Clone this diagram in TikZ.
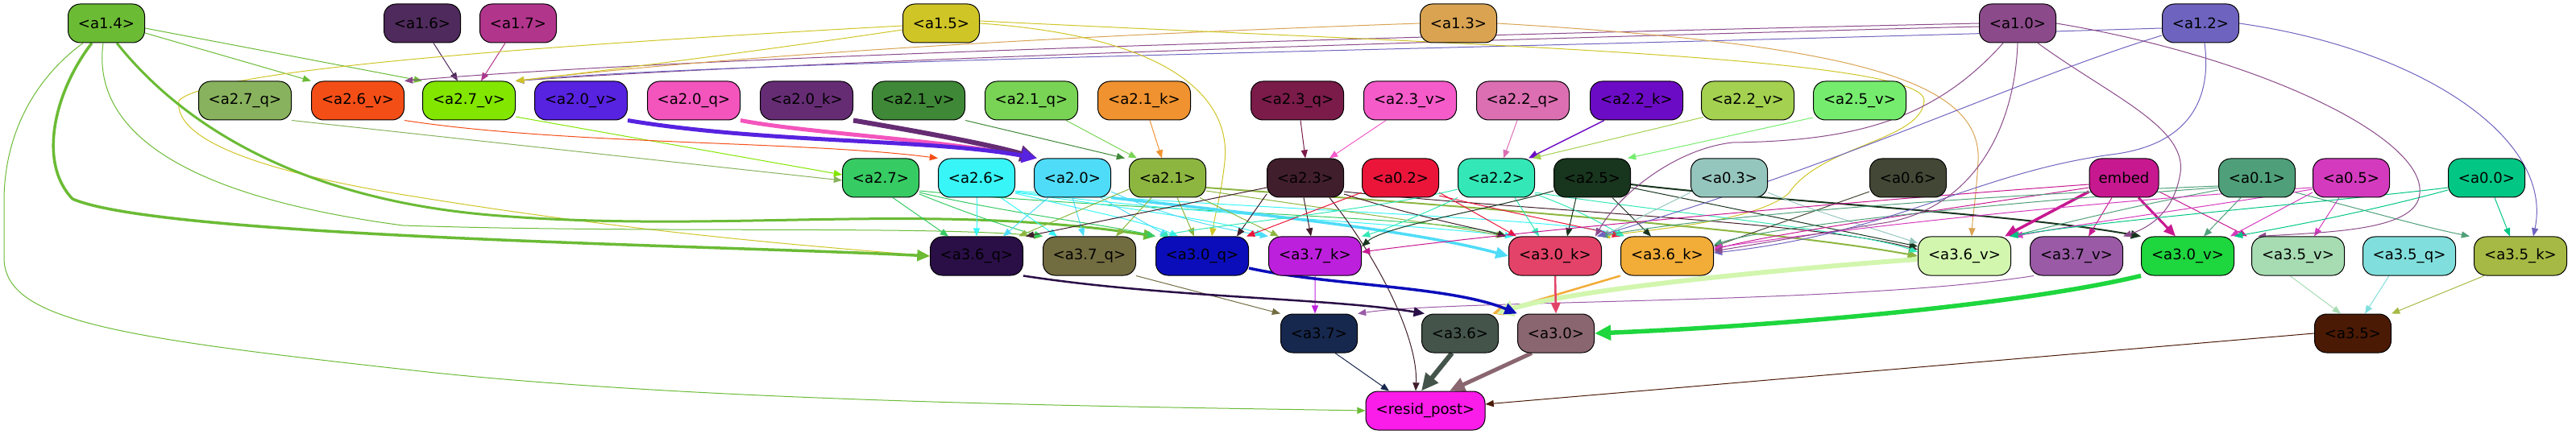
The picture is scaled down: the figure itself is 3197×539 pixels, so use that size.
\documentclass[tikz,border=0pt]{standalone}
\usepackage{fontspec}
\setmainfont{DejaVu Sans}
\usetikzlibrary{arrows.meta}
\pgfdeclarelayer{bg}
\pgfsetlayers{bg,main}
\definecolor{c14}{HTML}{6BBB35}\definecolor{c16}{HTML}{4F2A5C}\definecolor{c17}{HTML}{B2358C}
\definecolor{c15}{HTML}{D0C526}\definecolor{c13}{HTML}{D9A352}\definecolor{c10}{HTML}{8B4A8A}
\definecolor{c12}{HTML}{6E64BF}
\definecolor{c27q}{HTML}{88B25D}\definecolor{c26v}{HTML}{F44E17}\definecolor{c27v}{HTML}{82E600}
\definecolor{c20v}{HTML}{5722E0}\definecolor{c20q}{HTML}{F355BD}\definecolor{c20k}{HTML}{652C74}
\definecolor{c21v}{HTML}{3F8837}\definecolor{c21q}{HTML}{79D455}\definecolor{c21k}{HTML}{F0922F}
\definecolor{c23q}{HTML}{7A1B49}\definecolor{c23v}{HTML}{F55BC9}\definecolor{c22q}{HTML}{DB6FB2}
\definecolor{c22k}{HTML}{6C0BC5}\definecolor{c22v}{HTML}{A4D150}\definecolor{c25v}{HTML}{76EC6F}
\definecolor{c27}{HTML}{36CB63}\definecolor{c26}{HTML}{38F5F7}\definecolor{c20}{HTML}{4FDCF8}
\definecolor{c21}{HTML}{8DB641}\definecolor{c23}{HTML}{411E2B}\definecolor{c02}{HTML}{EB153A}
\definecolor{c22}{HTML}{33E8B6}\definecolor{c25}{HTML}{18351E}\definecolor{c03}{HTML}{95C6BD}
\definecolor{c06}{HTML}{434735}\definecolor{cemb}{HTML}{C71890}\definecolor{c01}{HTML}{4FA07A}
\definecolor{c05}{HTML}{D43ABE}\definecolor{c00}{HTML}{02C684}
\definecolor{c36q}{HTML}{2A0F47}\definecolor{c37q}{HTML}{726C41}\definecolor{c30q}{HTML}{0B0DBB}
\definecolor{c37k}{HTML}{BD20DD}\definecolor{c30k}{HTML}{E34368}\definecolor{c36k}{HTML}{F2AC38}
\definecolor{c36v}{HTML}{D2F6AE}\definecolor{c37v}{HTML}{9A5AA6}\definecolor{c30v}{HTML}{1ED63E}
\definecolor{c35v}{HTML}{A7DCB3}\definecolor{c35q}{HTML}{80DFDC}\definecolor{c35k}{HTML}{A6B944}
\definecolor{c37}{HTML}{17284E}\definecolor{c36}{HTML}{44544B}\definecolor{c30}{HTML}{8A6670}
\definecolor{c35}{HTML}{4A1A05}\definecolor{cres}{HTML}{FA1CE8}
\tikzset{
  box/.style={draw=black, line width=1bp, rounded corners=15bp, minimum height=48bp,
    inner xsep=0pt, inner ysep=0pt, text=black, font=\fontsize{18.1bp}{22bp}\selectfont},
  bs/.style={box, fill=#1, minimum width=95bp},
  bl/.style={box, fill=#1, minimum width=115bp},
  e/.style={draw=#1, line width=1bp, -{Triangle[length=8bp 2.2, width=6bp 2.2]}}
}
\begin{document}
\begin{tikzpicture}[x=1bp, y=-1bp]
\useasboundingbox (0,0) rectangle (3197,539);
% row 1
\node[bs=c14] (n14) at (132,29) {<a1.4>};
\node[bs=c16] (n16) at (524,29) {<a1.6>};
\node[bs=c17] (n17) at (643,29) {<a1.7>};
\node[bs=c15] (n15) at (1168,29) {<a1.5>};
\node[bs=c13] (n13) at (1810,29) {<a1.3>};
\node[bs=c10] (n10) at (2504,29) {<a1.0>};
\node[bs=c12] (n12) at (2731,29) {<a1.2>};
% row 2
\node[bl=c27q] (n27q) at (304,125) {<a2.7\_q>};
\node[bl=c26v] (n26v) at (444,125) {<a2.6\_v>};
\node[bl=c27v] (n27v) at (582,125) {<a2.7\_v>};
\node[bl=c20v] (n20v) at (721,125) {<a2.0\_v>};
\node[bl=c20q] (n20q) at (861,125) {<a2.0\_q>};
\node[bl=c20k] (n20k) at (1001,125) {<a2.0\_k>};
\node[bl=c21v] (n21v) at (1140,125) {<a2.1\_v>};
\node[bl=c21q] (n21q) at (1280,125) {<a2.1\_q>};
\node[bl=c21k] (n21k) at (1420,125) {<a2.1\_k>};
\node[bl=c23q] (n23q) at (1610,125) {<a2.3\_q>};
\node[bl=c23v] (n23v) at (1750,125) {<a2.3\_v>};
\node[bl=c22q] (n22q) at (1890,125) {<a2.2\_q>};
\node[bl=c22k] (n22k) at (2031,125) {<a2.2\_k>};
\node[bl=c22v] (n22v) at (2169,125) {<a2.2\_v>};
\node[bl=c25v] (n25v) at (2308,125) {<a2.5\_v>};
% row 3
\node[bs=c27] (n27) at (1093,221) {<a2.7>};
\node[bs=c26] (n26) at (1212,221) {<a2.6>};
\node[bs=c20] (n20) at (1331,221) {<a2.0>};
\node[bs=c21] (n21) at (1449,221) {<a2.1>};
\node[bs=c23] (n23) at (1620,221) {<a2.3>};
\node[bs=c02] (n02) at (1738,221) {<a0.2>};
\node[bs=c22] (n22) at (1857,221) {<a2.2>};
\node[bs=c25] (n25) at (1976,221) {<a2.5>};
\node[bs=c03] (n03) at (2146,221) {<a0.3>};
\node[bs=c06] (n06) at (2368,221) {<a0.6>};
\node[box, fill=cemb, minimum width=86bp] (emb) at (2636,221) {embed};
\node[bs=c01] (n01) at (2801,221) {<a0.1>};
\node[bs=c05] (n05) at (2918,221) {<a0.5>};
\node[bs=c00] (n00) at (3086,221) {<a0.0>};
% row 4
\node[bl=c36q] (n36q) at (1212,318) {<a3.6\_q>};
\node[bl=c37q] (n37q) at (1352,318) {<a3.7\_q>};
\node[bl=c30q] (n30q) at (1492,318) {<a3.0\_q>};
\node[bl=c37k] (n37k) at (1632,318) {<a3.7\_k>};
\node[bl=c30k] (n30k) at (1930,318) {<a3.0\_k>};
\node[bl=c36k] (n36k) at (2069,318) {<a3.6\_k>};
\node[bl=c36v] (n36v) at (2438,318) {<a3.6\_v>};
\node[bl=c37v] (n37v) at (2577,318) {<a3.7\_v>};
\node[bl=c30v] (n30v) at (2715,318) {<a3.0\_v>};
\node[bl=c35v] (n35v) at (2852,318) {<a3.5\_v>};
\node[bl=c35q] (n35q) at (2990,318) {<a3.5\_q>};
\node[bl=c35k] (n35k) at (3128,318) {<a3.5\_k>};
% row 5
\node[bs=c37] (n37) at (1637,414) {<a3.7>};
\node[bs=c36] (n36) at (1812,414) {<a3.6>};
\node[bs=c30] (n30) at (1931,414) {<a3.0>};
\node[bs=c35] (n35) at (2920,414) {<a3.5>};
% row 6
\node[box, fill=cres, minimum width=148bp] (resid) at (1769,510) {<resid\_post>};

\begin{pgfonlayer}{bg}
% row1 -> row2
\draw[e=c16] ([xshift=14bp]n16.south) -- ([xshift=-14bp]n27v.north);
\draw[e=c17] ([xshift=-16bp]n17.south) -- ([xshift=15bp]n27v.north);
\draw[e=c14] ([yshift=-12bp]n14.east) -- (n26v.north west);
\draw[e=c14] ([yshift=-6bp]n14.east) -- (n27v.north west);
\draw[e=c10] (n10.west) .. controls (1500,50) and (800,75) .. (n26v.north east);
\draw[e=c10] ([yshift=-4bp]n10.west) .. controls (1500,58) and (900,82) .. (n27v.north east);
\draw[e=c12] ([yshift=-6bp]n12.west) .. controls (1800,62) and (900,76) .. (n27v.north east);
\draw[e=c13] (n13.west) .. controls (1300,45) and (900,70) .. (n27v.north east);
\draw[e=c15] ([yshift=-8bp]n15.west) .. controls (1000,55) and (800,82) .. (n27v.north east);
\draw[e=c15] ([yshift=-3bp]n15.west) .. controls (700,55) and (260,85) .. (222,125) .. controls (215,175) and (330,215) .. (520,245) .. controls (800,290) and (1000,305) .. (n36q.west);
\draw[e=c15] (n15.east) .. controls (1450,45) and (1528,120) .. (1520,200) .. controls (1516,240) and (1508,265) .. ([xshift=12bp]n30q.north);
\draw[e=c15] ([yshift=3bp]n15.east) .. controls (1800,55) and (2390,70) .. (2388,125) .. controls (2385,175) and (2260,180) .. (2220,240) .. controls (2180,275) and (2050,285) .. (n30k.north east);
\draw[e=c13] (n13.east) .. controls (2300,55) and (2460,100) .. (2455,200) .. controls (2452,250) and (2448,270) .. ([xshift=9bp]n36v.north);
% a1.4 long edges
\draw[e=c14, line width=3.5bp] ([xshift=-18bp]n14.south) .. controls (70,110) and (45,200) .. (90,247) .. controls (200,295) and (900,305) .. (n36q.west);
\draw[e=c14, line width=3bp] ([xshift=13bp]n14.south) .. controls (230,160) and (380,250) .. (620,268) .. controls (900,290) and (1150,250) .. (n30q.north west);
\draw[e=c14] ([xshift=-4bp]n14.south) .. controls (115,150) and (200,240) .. (500,280) .. controls (800,290) and (1150,280) .. (n37q.north west);
\draw[e=c14] ([xshift=-29bp]n14.south) .. controls (40,100) and (5,170) .. (5,250) -- (5,320) .. controls (5,400) and (150,420) .. (540,463) .. controls (900,500) and (1400,505) .. (resid.west);
% row2 -> row3
\draw[e=c27q] (n27q.south east) -- ([yshift=-3bp]n27.west);
\draw[e=c27v] ([yshift=-20bp]n27v.east) -- ([yshift=4bp]n27.west);
\draw[e=c26v] (n26v.south east) .. controls (700,180) and (1000,175) .. (n26.north west);
\draw[e=c20q, line width=5bp] (n20q.south east) .. controls (1000,165) and (1150,172) .. ([xshift=4bp]n20.north west);
\draw[e=c20k, line width=6bp] (n20k.south east) .. controls (1150,165) and (1230,180) .. ([xshift=4bp]n20.north west);
\draw[e=c20v, line width=5bp] (n20v.south east) .. controls (950,178) and (1150,172) .. ([xshift=4bp]n20.north west);
\draw[e=c21v] (n21v.south east) -- ([xshift=-5bp]n21.north west);
\draw[e=c21q] ([xshift=-15bp]n21q.south east) -- ([xshift=10bp]n21.north west);
\draw[e=c21k] ([xshift=7bp]n21k.south) -- ([xshift=-7bp]n21.north);
\draw[e=c23q] ([xshift=4bp]n23q.south) -- (n23.north);
\draw[e=c23v] ([xshift=-30bp]n23v.south) -- ([xshift=30bp]n23.north);
\draw[e=c22q] ([xshift=-7bp]n22q.south) -- ([xshift=9bp]n22.north);
\draw[e=c22k, line width=1.5bp] ([xshift=-40bp]n22k.south) -- ([xshift=40bp]n22.north);
\draw[e=c22v] ([xshift=-55bp, yshift=4bp]n22v.south) -- ([xshift=-3bp]n22.north east);
\draw[e=c25v] ([yshift=-21bp]n25v.west) -- ([xshift=-4bp]n25.north east);
% a2.7
\draw[e=c27] ([xshift=15bp]n27.south) -- ([xshift=-35bp]n36q.north);
\draw[e=c27] ([yshift=-20bp]n27.east) .. controls (1200,265) and (1260,285) .. (n37q.north west);
\draw[e=c27] ([yshift=-18bp]n27.east) .. controls (1250,265) and (1380,280) .. (n30q.north west);
\draw[e=c27] ([yshift=-16bp]n27.east) .. controls (1400,262) and (1800,270) .. ([xshift=-2bp]n30k.north west);
% a2.6
\draw[e=c26] (n26.south) -- (n36q.north);
\draw[e=c26] ([xshift=30bp]n26.south) -- ([xshift=-40bp]n37q.north);
\draw[e=c26] ([yshift=-19bp]n26.east) .. controls (1350,262) and (1420,275) .. ([xshift=-30bp]n30q.north);
\draw[e=c26] ([yshift=-18bp]n26.east) .. controls (1450,265) and (1540,280) .. ([xshift=-6bp]n37k.north west);
\draw[e=c26] ([yshift=-17bp]n26.east) .. controls (1500,268) and (1750,278) .. ([xshift=6bp]n30k.north west);
\draw[e=c26] ([yshift=-16bp]n26.east) .. controls (1600,262) and (1950,272) .. ([xshift=3bp]n36k.north west);
% a2.0
\draw[e=c20] ([xshift=-30bp]n20.south) -- ([xshift=33bp]n36q.north);
\draw[e=c20] (n20.south) -- ([xshift=-7bp]n37q.north);
\draw[e=c20] ([xshift=35bp]n20.south) -- ([xshift=-42bp]n30q.north);
\draw[e=c20, line width=3.5bp] (n20.south east) .. controls (1550,265) and (1750,285) .. (n30k.west);
\draw[e=c20] ([yshift=-17bp]n20.east) .. controls (1450,270) and (1520,285) .. (n37k.north west);
% a2.1
\draw[e=c21] ([yshift=-14bp]n21.west) -- ([xshift=-6bp]n36q.north east);
\draw[e=c21] ([xshift=-20bp]n21.south) -- ([xshift=33bp]n37q.north);
\draw[e=c21] ([xshift=12bp]n21.south) -- ([xshift=-10bp]n30q.north);
\draw[e=c21] ([xshift=40bp]n21.south) -- ([xshift=-45bp]n37k.north);
\draw[e=c21, line width=2bp] ([yshift=-12bp]n21.east) .. controls (1800,255) and (2200,285) .. (n36v.west);
\draw[e=c21] ([yshift=-16bp]n21.east) .. controls (1650,260) and (1800,280) .. ([xshift=-5bp]n30k.north west);
% a2.3
\draw[e=c23] ([xshift=-2bp]n23.south) -- ([xshift=-5bp]n37k.north);
\draw[e=c23] ([xshift=30bp]n23.south) .. controls (1710,320) and (1760,420) .. ([xshift=-12bp]resid.north);
\draw[e=c23] ([yshift=-12bp]n23.west) -- ([xshift=3bp]n36q.north east);
\draw[e=c23] ([yshift=-20bp]n23.west) -- ([xshift=-15bp]n30q.north east);
\draw[e=c23] ([yshift=-20bp]n23.east) .. controls (1760,270) and (1840,285) .. ([xshift=-3bp]n30k.north west);
\draw[e=c23] ([yshift=-17bp]n23.east) .. controls (1900,262) and (2250,275) .. ([yshift=8bp]n36v.west);
% a0.2
\draw[e=c02] ([yshift=-18bp]n02.west) -- ([xshift=-3bp]n30q.north east);
\draw[e=c02] ([yshift=-18bp]n02.east) -- ([xshift=10bp]n30k.north west);
\draw[e=c02] ([yshift=-22bp]n02.east) .. controls (1900,270) and (1980,285) .. (n36k.north west);
% a2.2
\draw[e=c22] (n22.south west) .. controls (1780,260) and (1720,285) .. (n37k.north east);
\draw[e=c22] ([xshift=23bp]n22.south) -- ([xshift=-20bp]n30k.north);
\draw[e=c22] ([yshift=-20bp]n22.east) .. controls (1960,260) and (2000,285) .. ([xshift=5bp]n36k.north west);
\draw[e=c22] ([yshift=-14bp]n22.west) .. controls (1700,262) and (1500,280) .. ([xshift=5bp]n30q.north west);
\draw[e=c22] ([yshift=-18bp]n22.east) .. controls (2050,262) and (2300,285) .. ([yshift=5bp]n36v.west);
% a2.5
\draw[e=c25] ([xshift=-20bp]n25.south) -- ([xshift=15bp]n30k.north);
\draw[e=c25] ([xshift=25bp]n25.south) -- ([xshift=-20bp]n36k.north);
\draw[e=c25] ([yshift=-16bp]n25.west) .. controls (1850,260) and (1720,280) .. ([yshift=12bp]n37k.east);
\draw[e=c25] ([yshift=-12bp]n25.east) -- ([yshift=12bp]n36v.west);
\draw[e=c25, line width=2bp] ([yshift=-8bp]n25.east) .. controls (2200,250) and (2500,265) .. (n30v.north west);
% a0.3 / a0.6
\draw[e=c03] ([yshift=-18bp]n03.west) -- (n30k.north east);
\draw[e=c03] ([yshift=-18bp]n03.east) .. controls (2250,262) and (2320,282) .. ([yshift=16bp]n36v.west);
\draw[e=c06] ([yshift=-17bp]n06.west) -- ([yshift=12bp]n36k.east);
% embed
\draw[e=cemb, line width=3.5bp] ([yshift=-17bp]emb.west) -- ([xshift=-8bp]n36v.north east);
\draw[e=cemb] ([xshift=-15bp]emb.south) -- ([xshift=15bp]n37v.north);
\draw[e=cemb, line width=3bp] ([xshift=18bp]emb.south) -- ([xshift=-15bp]n30v.north);
\draw[e=cemb] ([yshift=-17bp]emb.east) -- ([xshift=-5bp]n35v.north west);
\draw[e=cemb] ([yshift=-8bp]emb.west) .. controls (2300,250) and (1900,285) .. ([yshift=5bp]n37k.east);
\draw[e=cemb] ([yshift=-12bp]emb.west) .. controls (2400,262) and (2200,290) .. ([yshift=8bp]n36k.east);
% a0.1
\draw[e=c01] ([xshift=-20bp]n01.south) -- ([xshift=20bp]n30v.north);
\draw[e=c01] ([yshift=-18bp]n01.east) .. controls (2950,265) and (3000,280) .. ([xshift=-5bp]n35k.north west);
\draw[e=c01] ([yshift=-15bp]n01.west) .. controls (2650,255) and (2550,280) .. (n36v.north east);
\draw[e=c01] ([yshift=-12bp]n01.west) .. controls (2500,250) and (2200,280) .. ([yshift=14bp]n36k.east);
\draw[e=c01] ([yshift=-10bp]n01.west) .. controls (2400,245) and (2100,272) .. ([xshift=-3bp]n30k.north east);
% a0.5
\draw[e=c05] ([xshift=-15bp]n05.south) -- ([xshift=20bp]n35v.north);
\draw[e=c05] ([yshift=-18bp]n05.west) -- ([xshift=-5bp]n30v.north east);
\draw[e=c05] ([yshift=-14bp]n05.west) .. controls (2750,255) and (2600,275) .. ([xshift=4bp]n36v.north east);
\draw[e=c05] ([yshift=-12bp]n05.west) .. controls (2600,250) and (2300,282) .. ([yshift=10bp]n36k.east);
% a0.0
\draw[e=c00] ([xshift=10bp]n00.south) -- ([xshift=-13bp]n35k.north);
\draw[e=c00] ([yshift=-15bp]n00.west) .. controls (2950,260) and (2850,280) .. (n30v.north east);
\draw[e=c00] ([yshift=-12bp]n00.west) .. controls (2900,250) and (2600,275) .. ([xshift=-2bp]n36v.north east);
% a1.2
\draw[e=c12] (n12.east) .. controls (3000,60) and (3170,170) .. ([xshift=16bp]n35k.north);
\draw[e=c12] ([xshift=5bp]n12.south) .. controls (2745,120) and (2720,180) .. (2620,192) .. controls (2450,215) and (2350,290) .. ([yshift=4bp]n36k.east);
\draw[e=c12] ([yshift=-15bp]n12.west) .. controls (2500,100) and (2300,200) .. ([xshift=-6bp]n30k.north east);
% a1.0
\draw[e=c10] ([xshift=-18bp]n10.south) .. controls (2400,150) and (2300,175) .. (2150,177) .. controls (2080,185) and (2010,240) .. ([xshift=-8bp]n30k.north east);
\draw[e=c10] (n10.south) .. controls (2500,170) and (2440,265) .. (2330,278) -- ([yshift=6bp]n36k.east);
\draw[e=c10] ([xshift=25bp]n10.south) .. controls (2620,120) and (2720,160) .. (2705,220) .. controls (2695,270) and (2660,285) .. (n37v.north east);
\draw[e=c10] (n10.east) .. controls (2800,70) and (3010,170) .. (3003,240) .. controls (3000,285) and (2900,288) .. ([xshift=8bp]n35v.north west);
% row4 -> row5
\draw[e=c37k] (n37k.south) -- ([xshift=-5bp]n37.north);
\draw[e=c37q] (n37q.south east) -- (n37.north west);
\draw[e=c37v] ([xshift=5bp]n37v.south west) .. controls (2300,378) and (1800,372) .. (n37.north east);
\draw[e=c36q, line width=2.5bp] (n36q.south east) .. controls (1450,370) and (1650,370) .. ([xshift=4bp]n36.north west);
\draw[e=c36k, line width=2.5bp] (n36k.south west) -- ([xshift=-8bp]n36.north east);
\draw[e=c36v, line width=6bp] ([yshift=-4bp]n36v.west) .. controls (2200,335) and (1950,360) .. ([xshift=-3bp]n36.north east);
\draw[e=c30k, line width=2.5bp] (n30k.south) -- (n30.north);
\draw[e=c30q, line width=3.5bp] ([yshift=-15bp]n30q.east) .. controls (1650,355) and (1800,355) .. (n30.north west);
\draw[e=c30v, line width=5.5bp] (n30v.south west) .. controls (2500,380) and (2200,405) .. (n30.east);
\draw[e=c35v] ([xshift=-10bp]n35v.south) -- ([xshift=-15bp]n35.north);
\draw[e=c35q] ([xshift=-25bp]n35q.south) -- ([xshift=15bp]n35.north);
\draw[e=c35k] ([xshift=-45bp]n35k.south) -- (n35.north east);
% row5 -> row6
\draw[e=c37] ([xshift=20bp]n37.south) -- ([xshift=-45bp]resid.north);
\draw[e=c36, line width=6bp] ([xshift=-10bp]n36.south) -- ([xshift=-5bp]resid.north);
\draw[e=c30, line width=5bp] ([xshift=-30bp]n30.south) -- ([xshift=30bp]resid.north);
\draw[e=c35] (n35.west) -- ([yshift=8bp]resid.east);
\end{pgfonlayer}
\end{tikzpicture}
\end{document}
